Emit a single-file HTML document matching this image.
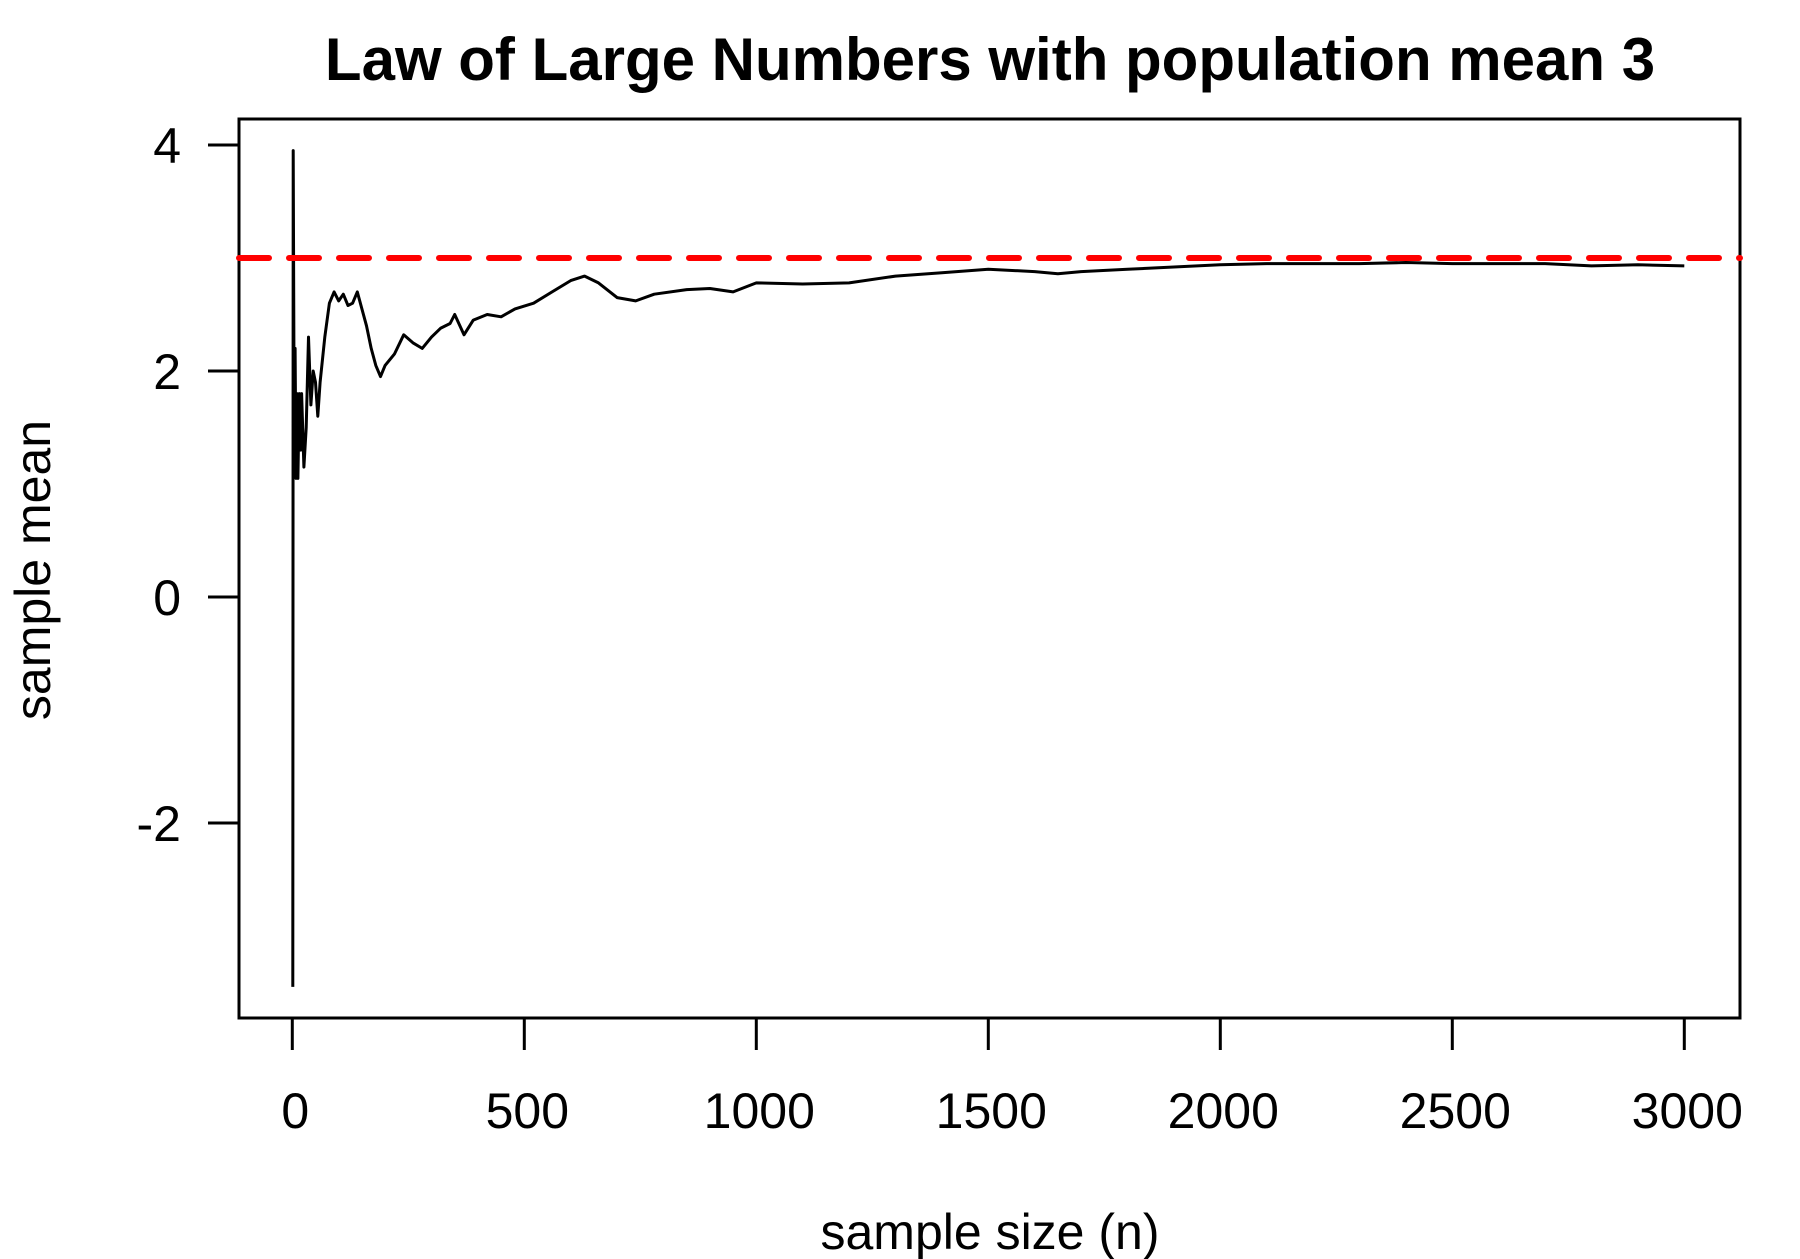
<!DOCTYPE html>
<html><head><meta charset="utf-8"><style>
html,body{margin:0;padding:0;background:#fff;}
svg{display:block;font-family:"Liberation Sans",Arial,sans-serif;}
</style></head><body>
<svg id="chart" width="1800" height="1259" viewBox="0 0 1800 1259" xmlns="http://www.w3.org/2000/svg">
<rect x="0" y="0" width="1800" height="1259" fill="#fff"/>
<text x="990" y="80" text-anchor="middle" font-size="60" font-weight="bold">Law of Large Numbers with population mean 3</text>
<text x="990" y="1249" text-anchor="middle" font-size="50">sample size (n)</text>
<text transform="translate(50,570) rotate(-90)" text-anchor="middle" font-size="50">sample mean</text>
<rect x="239" y="119" width="1501" height="899" fill="none" stroke="#000" stroke-width="3"/>
<g id="xaxis"></g>
<g id="yaxis"></g>
<g id="series"></g>
</svg>
<script>
const xTicks=[0,500,1000,1500,2000,2500,3000];
const yTicks=[-2,0,2,4];
const popMean=3;
const nValues=[1,2,3,4,6,8,10,12,15,18,20,25,30,35,40,45,50,55,60,70,80,90,100,110,120,130,140,150,160,170,180,190,200,220,240,260,280,300,320,340,350,370,390,420,450,480,520,560,600,630,660,700,740,780,850,900,950,1000,1100,1200,1300,1400,1500,1600,1650,1700,1800,1900,2000,2100,2200,2300,2400,2500,2600,2700,2800,2900,3000];
const meanValues=[-3.45,3.95,2.7,1.5,2.2,1.05,1.8,1.05,1.8,1.3,1.8,1.15,1.5,2.3,1.7,2.0,1.9,1.6,1.9,2.3,2.6,2.7,2.62,2.68,2.58,2.6,2.7,2.55,2.4,2.2,2.05,1.95,2.05,2.15,2.32,2.25,2.2,2.3,2.38,2.42,2.5,2.32,2.45,2.5,2.48,2.55,2.6,2.7,2.8,2.84,2.78,2.65,2.62,2.68,2.72,2.73,2.7,2.78,2.77,2.78,2.84,2.87,2.9,2.88,2.86,2.88,2.9,2.92,2.94,2.95,2.95,2.95,2.96,2.95,2.95,2.95,2.93,2.94,2.93];
const NS='http://www.w3.org/2000/svg';
const sx=v=>292.3+v*0.464;
const sy=v=>597-v*113;
function mk(tag,attrs,parent){const e=document.createElementNS(NS,tag);for(const k in attrs)e.setAttribute(k,attrs[k]);parent.appendChild(e);return e;}
const xg=document.getElementById('xaxis'),yg=document.getElementById('yaxis'),sg=document.getElementById('series');
let l=mk('line',{x1:sx(xTicks[0]),x2:sx(xTicks[xTicks.length-1]),y1:1018,y2:1018,stroke:'#000','stroke-width':3},xg);


xTicks.forEach(t=>{
 const tk=mk('line',{x1:sx(t),x2:sx(t),y1:1018,y2:1050,stroke:'#000','stroke-width':3},xg);
 
 
 const tx=mk('text',{x:sx(t)+3,y:1128,'text-anchor':'middle','font-size':50},xg);
 tx.textContent=t;
 
 
});
l=mk('line',{x1:239,x2:239,y1:sy(yTicks[0]),y2:sy(yTicks[yTicks.length-1]),stroke:'#000','stroke-width':3},yg);


yTicks.forEach(t=>{
 const tk=mk('line',{x1:208,x2:239,y1:sy(t),y2:sy(t),stroke:'#000','stroke-width':3},yg);
 
 
 const tx=mk('text',{x:181,y:sy(t)+18,'text-anchor':'end','font-size':50},yg);
 tx.textContent=t;
 
 
});
const pts=nValues.map((n,i)=>sx(n).toFixed(1)+','+sy(meanValues[i]).toFixed(1)).join(' ');
const pl=mk('polyline',{points:pts,fill:'none',stroke:'#000','stroke-width':3,'stroke-linejoin':'round'},sg);


const rl=mk('line',{x1:239,x2:1740,y1:sy(popMean),y2:sy(popMean),stroke:'#ff0000','stroke-width':6,'stroke-dasharray':'30 20','stroke-linecap':'round'},sg);


</script>
</body></html>
